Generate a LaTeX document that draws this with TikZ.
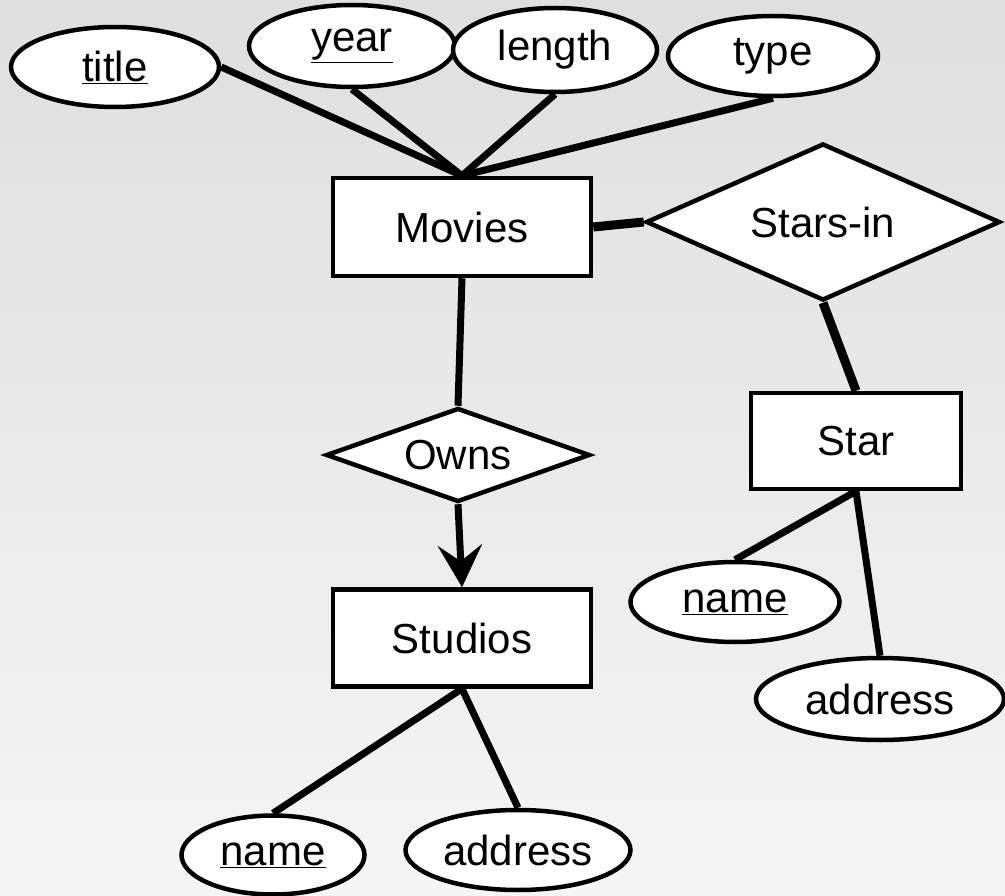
\documentclass[tikz,border=0pt]{standalone}
\usepackage{fontspec}
\setmainfont{Liberation Sans}
\usetikzlibrary{shapes.geometric,arrows.meta}
\definecolor{bgtop}{HTML}{DFDFDF}
\definecolor{bgbot}{HTML}{F5F5F5}
\tikzset{
  lbl/.style={font=\fontsize{42}{50}\selectfont},
  attr/.style={ellipse, draw, line width=4.5pt, fill=white, inner sep=0pt, lbl},
  entity/.style={rectangle, draw, line width=4.5pt, fill=white, inner sep=0pt, lbl},
  rel/.style={diamond, draw, line width=4.5pt, fill=white, inner sep=0pt, lbl},
  conn/.style={line width=7pt},
  thickconn/.style={line width=9pt}
}
\newcommand{\ul}[1]{\underline{#1}}
\begin{document}
\begin{tikzpicture}[x=1pt,y=-1pt]
\shade[top color=bgtop,bottom color=bgbot] (0,0) rectangle (1005,896);
\useasboundingbox (0,0) rectangle (1005,896);
% entities
\node[entity, minimum width=258pt, minimum height=98pt] (movies) at (462,227) {Movies};
\node[entity, minimum width=258pt, minimum height=97pt] (studios) at (462,638) {Studios};
\node[entity, minimum width=210pt, minimum height=96pt] (star) at (856,441) {Star};
% relationships
\node[rel, minimum width=354pt, minimum height=157pt, aspect=2.25] (starsin) at (823,222) {Stars-in};
\node[rel, minimum width=264pt, minimum height=94pt, aspect=2.8] (owns) at (458,455) {Owns};
% attributes
\node[attr, minimum width=208pt, minimum height=80pt] (title) at (115,67) {\ul{title}};
\node[attr, minimum width=206pt, minimum height=82pt] (year) at (352,46) {\ul{year}};
\node[attr, minimum width=204pt, minimum height=84pt] (length) at (555,50) {length};
\node[attr, minimum width=210pt, minimum height=80pt] (type) at (773,56) {type};
\node[attr, minimum width=183pt, minimum height=79pt] (sname) at (273,855) {\ul{name}};
\node[attr, minimum width=225pt, minimum height=80pt] (saddr) at (518,850) {address};
\node[attr, minimum width=209pt, minimum height=80pt] (stname) at (735,602) {\ul{name}};
\node[attr, minimum width=248pt, minimum height=82pt] (staddr) at (880,699) {address};
% connectors
\draw[conn] (title.east) -- (movies.north);
\draw[conn] (year.south) -- (movies.north);
\draw[conn] (length.south) -- (movies.north);
\draw[conn] (type.south) -- (movies.north);
\draw[thickconn] (movies.east) -- (starsin.west);
\draw[conn] (movies.south) -- (owns.north);
\draw[conn, -{Stealth[length=42pt, width=44pt, inset=16pt]}] (owns.south) -- (studios.north);
\draw[conn] (studios.south) -- (sname.north);
\draw[conn] (studios.south) -- (saddr.north);
\draw[thickconn] (starsin.south) -- (star.north);
\draw[conn] (star.south) -- (stname.north);
\draw[conn] (star.south) -- (staddr.north);
\end{tikzpicture}
\end{document}
